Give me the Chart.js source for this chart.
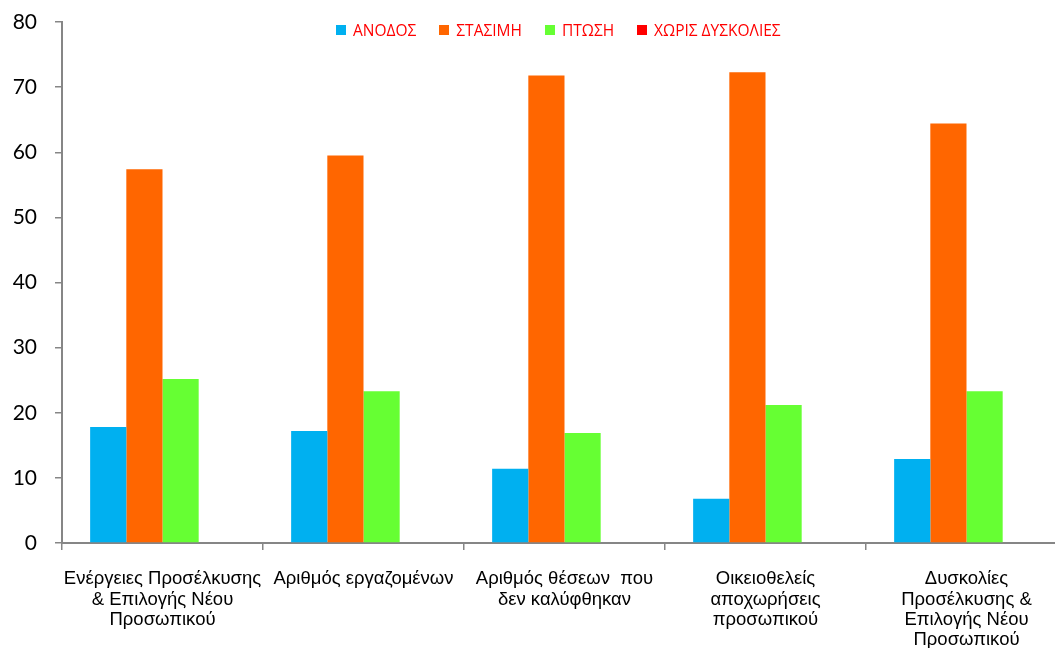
<!DOCTYPE html>
<html lang="el">
<head>
<meta charset="utf-8">
<title>Δυσκολίες προσωπικού</title>
<script src="https://cdn.jsdelivr.net/npm/chart.js@4.4.1/dist/chart.umd.min.js"></script>
<style>
  html, body { margin: 0; padding: 0; background: #fff; overflow: hidden; }
  #wrap { position: relative; width: 1070px; height: 648px; }
  #legend {
    position: absolute; left: 336px; top: 19px;
    display: flex; align-items: center;
    font: 15.5px "Open Sans", sans-serif; color: #ff0000;
  }
  #legend .item { display: flex; align-items: center; margin-right: 23px; }
  #legend .box { width: 10px; height: 10px; margin-right: 7px; }
</style>
</head>
<body>
<div id="wrap">
  <canvas id="chart" width="1070" height="648"></canvas>
  <div id="legend"></div>
</div>
<script>
const categories = [
  ['Ενέργειες Προσέλκυσης', '& Επιλογής Νέου', 'Προσωπικού'],
  ['Αριθμός εργαζομένων'],
  ['Αριθμός θέσεων  που', 'δεν καλύφθηκαν'],
  ['Οικειοθελείς', 'αποχωρήσεις', 'προσωπικού'],
  ['Δυσκολίες', 'Προσέλκυσης &', 'Επιλογής Νέου', 'Προσωπικού'],
];

const seriesNames = ['ΑΝΟΔΟΣ', 'ΣΤΑΣΙΜΗ', 'ΠΤΩΣΗ', 'ΧΩΡΙΣ ΔΥΣΚΟΛΙΕΣ'];
const seriesColors = ['#00b0f0', '#ff6600', '#66ff33', '#ff0000'];

const anodos = [17.8, 17.2, 11.4, 6.8, 12.9];
const stasimi = [57.4, 59.5, 71.8, 72.3, 64.4];
const ptosi = [25.2, 23.3, 16.9, 21.2, 23.3];
const xorisDyskolies = [0, 0, 0, 0, 0];

const yTicks = [0, 10, 20, 30, 40, 50, 60, 70, 80];

const axisGrey = '#868686';

const datasets = [anodos, stasimi, ptosi, xorisDyskolies].map((data, i) => ({
  label: seriesNames[i],
  data,
  backgroundColor: seriesColors[i],
  borderWidth: 0,
  categoryPercentage: 0.72,
  barPercentage: 1.0,
}));

const chart = new Chart(document.getElementById('chart'), {
  type: 'bar',
  data: { labels: categories, datasets },
  options: {
    responsive: false,
    animation: false,
    layout: { padding: { top: 22, right: 3, left: 0, bottom: 0 } },
    plugins: {
      legend: { display: false },
      tooltip: { enabled: false },
    },
    scales: {
      x: {
        grid: {
          display: true,
          drawOnChartArea: false,
          offset: true,
          tickLength: 7,
          color: axisGrey,
          lineWidth: 1.5,
        },
        border: { color: axisGrey, width: 2 },
        ticks: {
          color: '#000',
          padding: 19,
          maxRotation: 0,
          autoSkip: false,
          font: { family: '"Liberation Sans", Arial, sans-serif', size: 18.5, lineHeight: 1.1 },
        },
        afterFit: (scale) => { scale.height = 105; },
      },
      y: {
        min: 0,
        max: 80,
        afterBuildTicks: (scale) => { scale.ticks = yTicks.map(v => ({ value: v })); },
        grid: {
          display: true,
          drawOnChartArea: false,
          tickLength: 7,
          color: axisGrey,
          lineWidth: 1.5,
        },
        border: { color: axisGrey, width: 2 },
        ticks: {
          color: '#000',
          padding: 18,
          font: { family: 'Lato, "Open Sans", sans-serif', size: 21 },
        },
        // fixed axis width; top/bottom spacing comes from layout padding only
        afterFit: (scale) => {
          scale.width = 62;
          scale.paddingTop = 0;
          scale.paddingBottom = 0;
        },
      },
    },
  },
});

// legend built from the chart's datasets
document.getElementById('legend').innerHTML = chart.data.datasets.map(ds => `
  <div class="item"><span class="box" style="background:${ds.backgroundColor}"></span>${ds.label}</div>
`).join('');
</script>
</body>
</html>
